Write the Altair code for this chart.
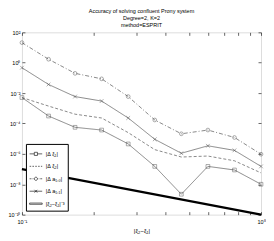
import altair as alt
import pandas as pd

# ---- data ----
x_vals = [0.1, 0.1292, 0.1668, 0.2154, 0.2783, 0.3594, 0.4642, 0.5995, 0.7743, 1.0]
err_xi1 = [5.1e-3, 3.1e-4, 5.6e-5, 3.7e-5, 4.5e-6, 1.5e-7, 2.2e-9, 1.5e-7, 8.7e-8, 1.0e-8]
err_xi2 = [5.1e-3, 1.4e-3, 4.1e-4, 2.3e-4, 2.5e-5, 1.9e-6, 6.2e-7, 7.2e-7, 3.5e-7, 5.6e-8]
err_a10 = [21.0, 1.7, 0.2, 0.087, 5.9e-3, 1.7e-4, 2.1e-5, 3.7e-5, 1.2e-5, 9.5e-7]
err_a11 = [0.47, 0.037, 5.9e-3, 3.0e-3, 2.3e-4, 9.1e-6, 1.1e-6, 3.4e-6, 1.7e-6, 1.5e-7]
ref_x = [0.1, 1.0]
ref_y = [1e-7, 1e-10]

series_names = ["|Δ ξ₁|", "|Δ ξ₂|", "|Δ a₁,₀|", "|Δ a₁,₁|", "|ξ₂−ξ₁|⁻³"]

x_ticks = [0.1, 0.2, 0.3, 0.4, 0.5, 0.6, 0.7, 0.8, 0.9, 1.0]
x_tick_labels = {0.1: "10⁻¹", 1.0: "10⁰"}
y_exps = [2, 0, -2, -4, -6, -8, -10]
y_tick_labels = ["10²", "10⁰", "10⁻²", "10⁻⁴", "10⁻⁶", "10⁻⁸", "10⁻¹⁰"]
y_ticks = [10.0 ** e for e in y_exps]

title_lines = ["Accuracy of solving confluent Prony system", "Degree=2, K=2", "method=ESPRIT"]
x_title = "|ξ₂−ξ₁|"

# ---- tables ----
rows = []
for name, vals in zip(series_names[:4], [err_xi1, err_xi2, err_a10, err_a11]):
    for xv, yv in zip(x_vals, vals):
        rows.append({"x": xv, "y": yv, "series": name})
err_df = pd.DataFrame(rows)
ref_df = pd.DataFrame({"x": ref_x, "y": ref_y, "series": series_names[4]})
all_df = pd.concat([err_df, ref_df], ignore_index=True)
marker_names = [series_names[0], series_names[2], series_names[3]]
mark_df = err_df[err_df["series"].isin(marker_names)]

FONT = "Liberation Sans"
LINE_C = "#3a3a3a"
FS = 5.5

x_scale = alt.Scale(type="log", domain=[0.1, 1.0], nice=False)
y_scale = alt.Scale(type="log", domain=[1e-10, 1e2], nice=False)

x_label_expr = " : ".join(
    f"abs(datum.value - {k}) < 1e-6 ? '{v}'" for k, v in x_tick_labels.items()
) + " : ''"
y_label_expr = " : ".join(
    f"abs(log(datum.value)/LN10 - ({e})) < 0.01 ? '{lab}'" for e, lab in zip(y_exps, y_tick_labels)
) + " : ''"

common_axis = dict(tickSize=3, offset=-3, domain=False, grid=False, tickColor="black",
                   tickWidth=0.6, labelFont=FONT, labelFontSize=FS, labelColor="black",
                   labelFlush=False)

x_bottom = alt.Axis(orient="bottom", values=x_ticks, labelExpr=x_label_expr, labelPadding=5,
                    title=x_title, titleFont=FONT, titleFontSize=6, titleFontWeight="normal",
                    titlePadding=2, labelOverlap=False, **common_axis)
y_left = alt.Axis(orient="left", values=y_ticks, labelExpr=y_label_expr, labelPadding=2,
                  title=None, labelOverlap=False, **common_axis)
x_top = alt.Axis(orient="top", values=x_ticks, labels=False, title=None, **common_axis)
y_right = alt.Axis(orient="right", values=y_ticks, labels=False, title=None, **common_axis)

dash_range = [[1, 0], [3, 2], [4, 2, 1, 2], [1, 0]]

lines = alt.Chart(err_df).mark_line(color=LINE_C, strokeWidth=0.6).encode(
    x=alt.X("x:Q", scale=x_scale, axis=x_bottom),
    y=alt.Y("y:Q", scale=y_scale, axis=y_left),
    strokeDash=alt.StrokeDash("series:N", scale=alt.Scale(domain=series_names[:4], range=dash_range), legend=None),
)

ref_line = alt.Chart(ref_df).mark_line(color="black", strokeWidth=2.2).encode(
    x=alt.X("x:Q", scale=x_scale, axis=x_top),
    y=alt.Y("y:Q", scale=y_scale, axis=y_right),
)

x_path = "M-1,-1L1,1M-1,1L1,-1"
markers = alt.Chart(mark_df).mark_point(color=LINE_C, filled=False, strokeWidth=0.6, size=14).encode(
    x=alt.X("x:Q", scale=x_scale, axis=None),
    y=alt.Y("y:Q", scale=y_scale, axis=None),
    shape=alt.Shape("series:N", scale=alt.Scale(domain=marker_names, range=["square", "circle", x_path]), legend=None),
)

legend_paths = [
    "M-1,0H-0.25M0.25,0H1M-0.25,-0.25H0.25V0.25H-0.25Z",
    "M-1,0H-0.75M-0.55,0H-0.3M-0.1,0H0.15M0.35,0H0.6M0.8,0H1",
    "M-1,0H-0.7M-0.55,0H-0.48M-0.36,0H-0.25M-0.25,0A0.25,0.25 0 1,0 0.25,0A0.25,0.25 0 1,0 -0.25,0M0.25,0H0.36M0.48,0H0.55M0.7,0H1",
    "M-1,0H1M-0.22,-0.22L0.22,0.22M-0.22,0.22L0.22,-0.22",
    "M-1,-0.1H1V0.1H-1Z",
]

legend_layer = alt.Chart(all_df).mark_point(color=LINE_C, filled=False, opacity=0).encode(
    x=alt.X("x:Q", scale=x_scale, axis=None),
    y=alt.Y("y:Q", scale=y_scale, axis=None),
    shape=alt.Shape("series:N", scale=alt.Scale(domain=series_names, range=legend_paths),
                    legend=alt.Legend(orient="bottom-left", offset=4, title=None,
                                      strokeColor="black", fillColor="white", padding=3,
                                      symbolSize=160, symbolStrokeWidth=0.7, symbolOpacity=1,
                                      symbolStrokeColor="#222222", symbolFillColor="transparent",
                                      labelFont=FONT, labelFontSize=FS, labelColor="black",
                                      rowPadding=1.5, labelOffset=3)),
)

chart = alt.layer(lines, ref_line, markers, legend_layer).resolve_axis(
    x="independent", y="independent"
).resolve_scale(shape="independent", strokeDash="independent").properties(
    width=240, height=183, padding=0,
    title=alt.Title(text=title_lines, font=FONT, fontSize=5.5, fontWeight="normal",
                    lineHeight=6.8, offset=2, anchor="middle", frame="group", color="black"),
).configure_view(stroke="black", strokeWidth=0.7).configure(font=FONT)

chart.save("out.html", embed_options={"renderer": "svg", "actions": False})
